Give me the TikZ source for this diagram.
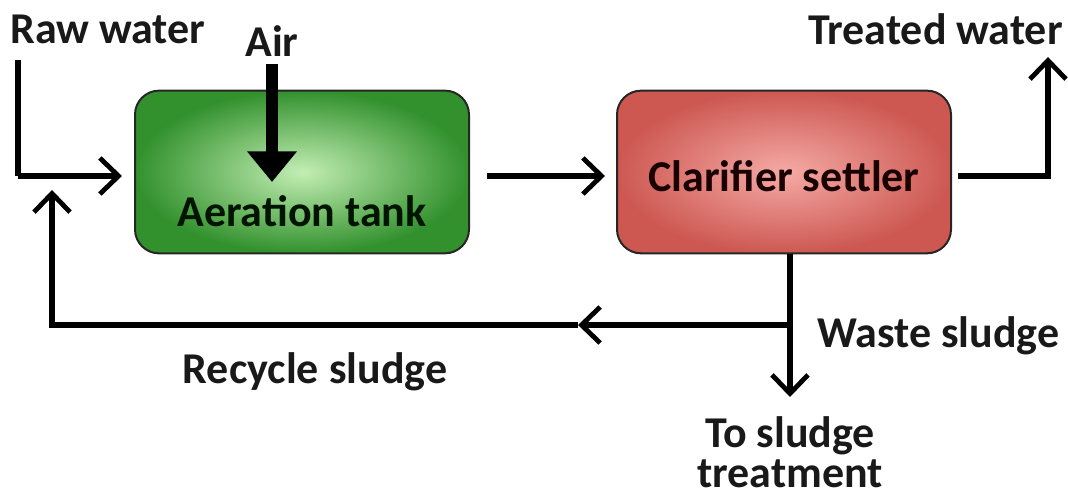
\documentclass[tikz,border=0pt]{standalone}
\usepackage{fontspec}
\setmainfont{Carlito}
\usepackage{tikz}
\usetikzlibrary{arrows.meta}
\definecolor{TankGreenIn}{RGB}{195,238,180}
\definecolor{TankGreenOut}{RGB}{50,145,45}
\definecolor{SettlerRedIn}{RGB}{245,170,165}
\definecolor{SettlerRedOut}{RGB}{205,88,82}
\definecolor{LabelInk}{RGB}{25,25,25}

\begin{document}
\begin{tikzpicture}[x=0.75pt,y=-0.75pt,
  lbl/.style={text=LabelInk,font=\fontsize{33}{30}\selectfont\bfseries,inner sep=0pt},
  unit/.style n args={2}{draw=black!85,line width=1.5pt,rounded corners=18pt,
     shading=radial,inner color=#1,outer color=#2,minimum width=250.5pt,minimum height=122pt},
  flow/.style={draw=black,line width=4pt,-{Straight Barb[length=14pt,width=27pt,line width=3.6pt]}},
  pipe/.style={draw=black,line width=4pt}]
\useasboundingbox (0,0) rectangle (1068,498);
% process units
\node[unit={TankGreenIn}{TankGreenOut}] (tank) at (302,172) {};
\node[unit={SettlerRedIn}{SettlerRedOut}] (settler) at (784,172) {};
\node[lbl,text=black!80!green!40!black] (tanktxt) at (302,211) {Aeration tank};
\node[lbl,text=black!80!red!50!black] (settlertxt) at (784,176) {Clarifier settler};
% labels
\node[lbl,anchor=west] (raw) at (10,29) {Raw water};
\node[lbl] (air) at (272,41) {Air};
\node[lbl,anchor=east] (treated) at (1063,29) {Treated water};
\node[lbl,anchor=west] (waste) at (817,336) {Waste sludge};
\node[lbl] (recycle) at (315,372) {Recycle sludge};
\node[lbl,align=center] (tosludge) at (790,452) {To sludge\\treatment};
% junction points
\coordinate (rawtop) at (18,60);
\coordinate (rawcorner) at (18,176);
\coordinate (inlet) at (122,176);
\coordinate (split) at (790,325);
\coordinate (retcorner) at (52,325);
\coordinate (rettip) at (52,190);
\coordinate (wastetip) at (790,397);
\coordinate (outcorner) at (1048,176);
\coordinate (outtip) at (1048,57);
\coordinate (midarrow) at (578,325);
% air supply
\draw[line width=9pt,-{Triangle[length=23pt,width=36pt]}] (272,64) -- (272,182);
% flows
\draw[pipe] (rawtop) -- (rawcorner);
\draw[flow] (rawcorner) -- (inlet);
\draw[flow] (487,176) -- (605,176);
\draw[flow] (958,176) -- (outcorner) -- (outtip);
\draw[pipe] (settler.south -| split) -- (split);
\draw[flow] (split) -- (midarrow);
\draw[flow] (midarrow) -- (retcorner) -- (rettip);
\draw[flow] (split) -- (wastetip);
\end{tikzpicture}
\end{document}
